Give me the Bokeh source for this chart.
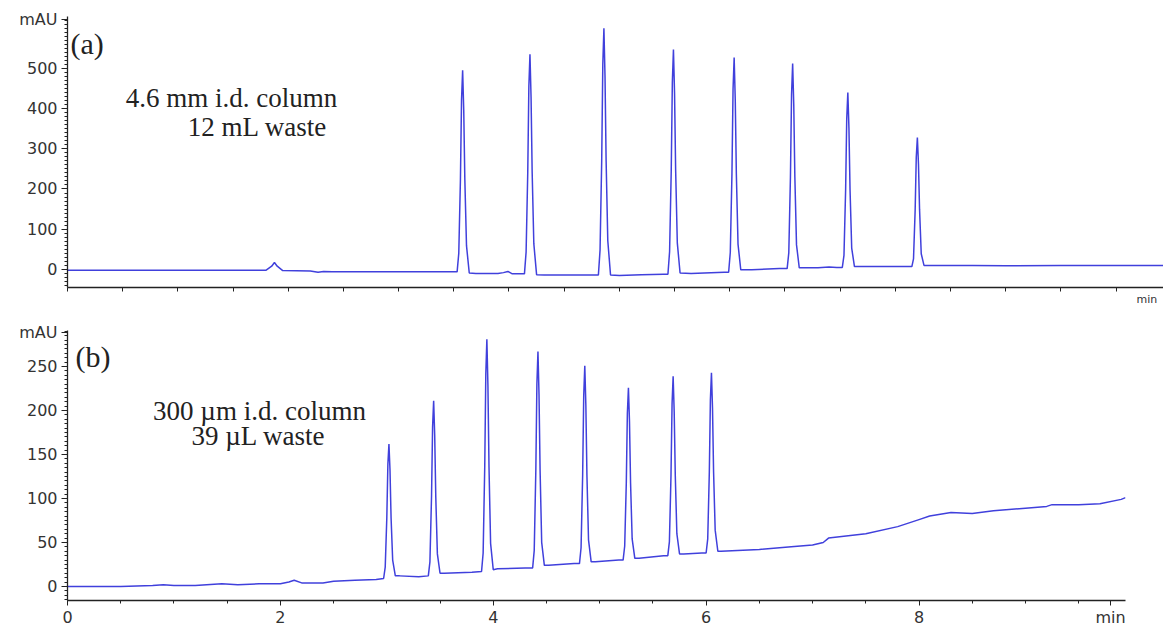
from bokeh.plotting import figure
from bokeh.layouts import column
from bokeh.models import FixedTicker, Label, Range1d
from bokeh.embed import file_html
from bokeh.resources import INLINE

# ---------------- Data: panel (a) 4.6 mm i.d. column ----------------
time_a = [0.0, 1.0, 1.80, 1.85, 1.875, 1.90, 1.95, 2.20, 2.27, 2.32, 2.40, 3.00, 3.50,
          3.53, 3.545, 3.56, 3.57, 3.58, 3.59, 3.60, 3.615, 3.64,
          3.70, 3.90, 3.95, 3.99, 4.03,
          4.14, 4.155, 4.17, 4.18, 4.19, 4.20, 4.21, 4.225, 4.25,
          4.32, 4.70,
          4.81, 4.825, 4.84, 4.85, 4.86, 4.87, 4.88, 4.895, 4.92,
          5.00, 5.20, 5.40,
          5.44, 5.455, 5.47, 5.48, 5.49, 5.50, 5.51, 5.525, 5.55,
          5.65, 5.95,
          5.99, 6.005, 6.02, 6.03, 6.04, 6.05, 6.06, 6.075, 6.10,
          6.20, 6.45,
          6.52, 6.535, 6.55, 6.56, 6.57, 6.58, 6.59, 6.605, 6.63,
          6.80, 6.90, 6.97,
          7.02, 7.035, 7.05, 7.06, 7.07, 7.08, 7.09, 7.105, 7.13,
          7.55,
          7.65, 7.665, 7.68, 7.69, 7.70, 7.71, 7.72, 7.735, 7.76,
          8.20, 8.50, 9.00, 9.50, 9.93]
signal_a = [-2, -2, -2, 8, 17, 8, -3, -4, -7, -5, -6, -6, -6,
            -6, 40, 223, 421, 495, 396, 223, 59, -9,
            -10, -10, -8, -5, -11,
            -11, 43, 241, 455, 535, 428, 241, 64, -13,
            -14, -14,
            -14, 48, 270, 510, 600, 480, 270, 72, -14,
            -15, -13, -12,
            -12, 44, 246, 465, 547, 438, 246, 66, -9,
            -10, -7,
            -7, 42, 237, 448, 527, 422, 237, 63, -1,
            -1, 2,
            2, 41, 230, 435, 512, 410, 230, 61, 4,
            4, 6, 5,
            5, 35, 198, 374, 440, 352, 198, 53, 7,
            7,
            7, 26, 148, 279, 328, 262, 148, 39, 10,
            10, 9, 10, 10, 10]

# ---------------- Data: panel (b) 300 um i.d. column ----------------
time_b = [0.0, 0.5, 0.8, 0.9, 1.0, 1.2, 1.45, 1.6, 1.8, 2.0, 2.08, 2.13, 2.2, 2.4, 2.5, 2.7, 2.9,
          2.97, 2.985, 3.00, 3.01, 3.02, 3.03, 3.04, 3.055, 3.08,
          3.12, 3.30,
          3.39, 3.405, 3.42, 3.43, 3.44, 3.45, 3.46, 3.475, 3.50,
          3.54, 3.80,
          3.89, 3.905, 3.92, 3.93, 3.94, 3.95, 3.96, 3.975, 4.00,
          4.04, 4.30,
          4.37, 4.385, 4.40, 4.41, 4.42, 4.43, 4.44, 4.455, 4.48,
          4.52, 4.76,
          4.81, 4.825, 4.84, 4.85, 4.86, 4.87, 4.88, 4.895, 4.92,
          4.96, 5.18,
          5.22, 5.235, 5.25, 5.26, 5.27, 5.28, 5.29, 5.305, 5.33,
          5.37, 5.60,
          5.64, 5.655, 5.67, 5.68, 5.69, 5.70, 5.71, 5.725, 5.75,
          5.79, 5.96,
          6.00, 6.015, 6.03, 6.04, 6.05, 6.06, 6.07, 6.085, 6.11,
          6.14, 6.50, 6.80, 7.00, 7.10, 7.15, 7.50, 7.80, 8.00, 8.10, 8.30,
          8.50, 8.70, 9.00, 9.20, 9.25, 9.50, 9.70, 9.90, 9.94]
signal_b = [0, 0, 1, 2, 1, 1, 3, 2, 3, 3, 5, 7, 4, 4, 6, 7, 8,
            9, 22, 78, 139, 162, 132, 78, 30, 12,
            12, 11,
            12, 28, 102, 181, 211, 171, 102, 37, 15,
            15, 16,
            17, 38, 136, 241, 281, 228, 136, 49, 19,
            20, 21,
            21, 41, 132, 230, 267, 218, 132, 50, 24,
            24, 26,
            26, 44, 127, 217, 251, 206, 127, 53, 28,
            28, 30,
            30, 46, 118, 197, 226, 187, 118, 54, 32,
            32, 35,
            35, 51, 127, 208, 239, 198, 127, 60, 37,
            37, 38,
            38, 54, 130, 212, 243, 202, 130, 64, 40,
            40, 42, 45, 47, 50, 55, 60, 68, 76, 80, 84,
            83, 86, 89, 91, 93, 93, 94, 99, 101]

y_ticks_a = [0, 100, 200, 300, 400, 500]
y_ticks_b = [0, 50, 100, 150, 200, 250]
x_ticks_b = [0, 2, 4, 6, 8]
unit_y = "mAU"
unit_x = "min"

LINE = "#4040dc"
AXIS = "#222222"
TICKFONT = "DejaVu Sans"
SERIF = "Liberation Serif"


def style(p):
    p.outline_line_color = None
    p.xgrid.visible = False
    p.ygrid.visible = False
    p.background_fill_color = "white"
    p.border_fill_color = "white"
    for ax in (p.xaxis[0], p.yaxis[0]):
        ax.axis_line_color = AXIS
        ax.axis_line_width = 1.3
        ax.major_tick_line_color = AXIS
        ax.minor_tick_line_color = AXIS
        ax.major_tick_out = 6
        ax.major_tick_in = 0
        ax.minor_tick_out = 3
        ax.minor_tick_in = 0
        ax.major_label_text_font = TICKFONT
        ax.major_label_text_font_size = "16px"
        ax.major_label_text_color = "#333333"
        ax.major_label_standoff = 4


# ---------------- Panel (a) ----------------
pa = figure(frame_width=1096, frame_height=271, min_border_left=67, min_border_right=0,
            min_border_top=16, min_border_bottom=13,
            x_range=Range1d(0, 9.93), y_range=Range1d(-45, 629),
            output_backend="svg", toolbar_location=None)
pa.line(time_a, signal_a, line_color=LINE, line_width=1.5)
style(pa)
pa.yaxis[0].ticker = FixedTicker(ticks=y_ticks_a + [622], minor_ticks=list(range(-40, 630, 10)))
pa.yaxis[0].major_label_overrides = {622: unit_y}
pa.xaxis[0].ticker = FixedTicker(ticks=[9.78], minor_ticks=[i * 0.5 for i in range(0, 20)])
pa.xaxis[0].major_label_overrides = {9.78: unit_x}
pa.xaxis[0].major_tick_out = 0
pa.xaxis[0].minor_tick_out = 4
pa.xaxis[0].major_label_text_font_size = "11px"
pa.xaxis[0].major_label_standoff = 1

pa.add_layout(Label(x=3, y=244, x_units="screen", y_units="screen", text="(a)",
                    text_align="left", text_baseline="middle",
                    text_font=SERIF, text_font_size="30px", text_color="#222222"))
pa.add_layout(Label(x=164, y=190, x_units="screen", y_units="screen", text="4.6 mm i.d. column",
                    text_align="center", text_baseline="middle",
                    text_font=SERIF, text_font_size="27px", text_color="#222222"))
pa.add_layout(Label(x=190, y=161, x_units="screen", y_units="screen", text="12 mL waste",
                    text_align="center", text_baseline="middle",
                    text_font=SERIF, text_font_size="27px", text_color="#222222"))

# ---------------- Panel (b) ----------------
pb = figure(frame_width=1058, frame_height=270, min_border_left=67, min_border_right=38,
            min_border_top=22, min_border_bottom=18,
            x_range=Range1d(0, 9.94), y_range=Range1d(-16, 291),
            output_backend="svg", toolbar_location=None)
pb.line(time_b, signal_b, line_color=LINE, line_width=1.5)
style(pb)
pb.yaxis[0].ticker = FixedTicker(ticks=y_ticks_b + [289], minor_ticks=list(range(-15, 291, 5)))
pb.yaxis[0].major_label_overrides = {289: unit_y}
pb.xaxis[0].ticker = FixedTicker(ticks=x_ticks_b + [9.8], minor_ticks=[i * 0.5 for i in range(0, 20)])
pb.xaxis[0].major_label_overrides = {9.8: unit_x}
pb.xaxis[0].major_tick_out = 5
pb.xaxis[0].major_label_standoff = 2

pb.add_layout(Label(x=8, y=244, x_units="screen", y_units="screen", text="(b)",
                    text_align="left", text_baseline="middle",
                    text_font=SERIF, text_font_size="30px", text_color="#222222"))
pb.add_layout(Label(x=192, y=190, x_units="screen", y_units="screen", text="300 µm i.d. column",
                    text_align="center", text_baseline="middle",
                    text_font=SERIF, text_font_size="27px", text_color="#222222"))
pb.add_layout(Label(x=191, y=165, x_units="screen", y_units="screen", text="39 µL waste",
                    text_align="center", text_baseline="middle",
                    text_font=SERIF, text_font_size="27px", text_color="#222222"))

layout = column(pa, pb, spacing=0)
open("out.html", "w").write(file_html(layout, INLINE))
